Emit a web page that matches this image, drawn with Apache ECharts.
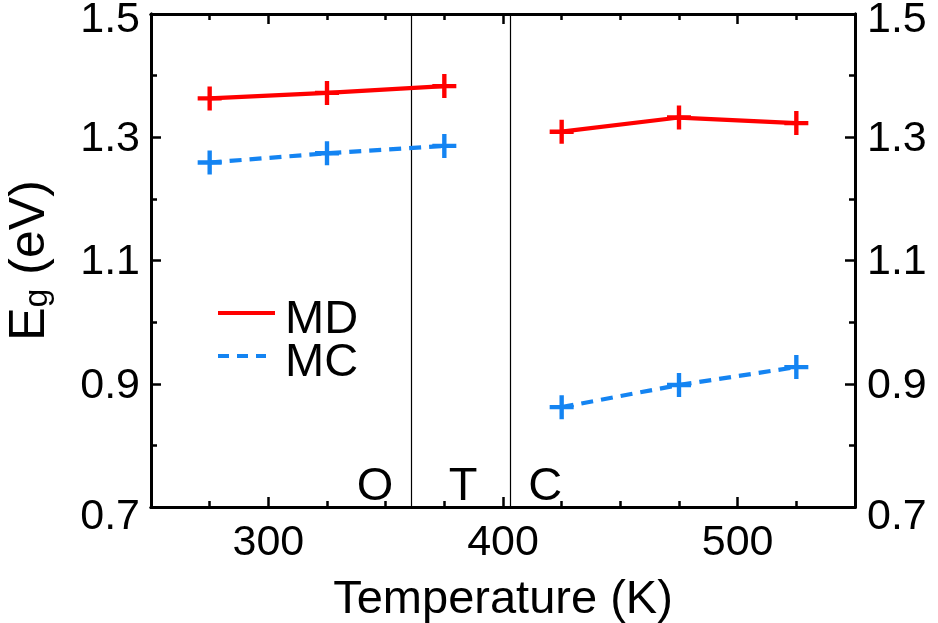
<!DOCTYPE html>
<html>
<head>
<meta charset="utf-8">
<script src="https://cdn.jsdelivr.net/npm/echarts@6/dist/echarts.min.js"></script>
<style>
  html, body { margin: 0; padding: 0; background: #ffffff; }
  #chart { width: 938px; height: 623px; }
</style>
</head>
<body>
<div id="chart"></div>
<script>
// Band gap of the two models across the O / T / C phases
const tempsLow = [275, 325, 375];      // K, orthorhombic + tetragonal range
const tempsHigh = [425, 475, 525];     // K, cubic range
const mdLow = [1.363, 1.372, 1.383];   // eV
const mdHigh = [1.309, 1.332, 1.323];
const mcLow = [1.259, 1.274, 1.286];
const mcHigh = [0.862, 0.898, 0.927];
const phaseBounds = [361, 403];        // K, phase transition temperatures
const phaseLabels = [['O', 345.5], ['T', 383], ['C', 418]];
const xMajor = [300, 400, 500];
const xMinor = [275, 325, 350, 375, 425, 450, 475, 525];
const yMajor = [0.7, 0.9, 1.1, 1.3, 1.5];
const yMinor = [0.8, 1.0, 1.2, 1.4];

const FONT = 'Liberation Sans, Arial, Helvetica, sans-serif';
const RED = '#ff0000';
const BLUE = '#1484f2';
const tickFont = 43;
const textFont = 47;

const pairs = (xs, ys) => xs.map((x, i) => [x, ys[i]]);
const plus = 'path://M4.5,0h2v4.5h4.5v2h-4.5v4.5h-2v-4.5h-4.5v-2h4.5z';

const lineAxis = { show: true, lineStyle: { color: '#000', width: 3 } };

function xAxisDef(position, ticks, len, labels) {
  return {
    type: 'value', min: 250, max: 550, position: position,
    axisLine: lineAxis,
    axisTick: { show: true, inside: true, length: len, customValues: ticks, lineStyle: { color: '#000', width: 2.5 } },
    axisLabel: labels ? { show: true, customValues: ticks, fontSize: tickFont, fontFamily: FONT, color: '#000', margin: 15 } : { show: false },
    splitLine: { show: false }
  };
}
// end labels sit a little lower so they stay inside the canvas
function yLabelText(v) {
  const s = v.toFixed(1);
  if (Math.abs(v - 1.5) < 1e-6) return '{top|' + s + '}';
  if (Math.abs(v - 0.7) < 1e-6) return '{bot|' + s + '}';
  return '{n|' + s + '}';
}
function yAxisDef(position, ticks, len, labels, margin) {
  const base = { fontSize: tickFont, fontFamily: FONT, color: '#000' };
  return {
    type: 'value', min: 0.7, max: 1.5, position: position,
    axisLine: lineAxis,
    axisTick: { show: true, inside: true, length: len, customValues: ticks, lineStyle: { color: '#000', width: 2.5 } },
    axisLabel: labels ? {
      show: true, customValues: ticks, fontSize: tickFont, fontFamily: FONT, color: '#000', margin: margin,
      formatter: yLabelText,
      rich: {
        n: Object.assign({ padding: [4, 0, 0, 0] }, base),
        top: Object.assign({ padding: [12, 0, 0, 0] }, base),
        bot: Object.assign({ padding: [20, 0, 0, 0] }, base)
      }
    } : { show: false },
    splitLine: { show: false }
  };
}

const xAxes = [
  Object.assign(xAxisDef('bottom', xMajor, 10, true), {
    name: 'Temperature (K)', nameLocation: 'middle', nameGap: 70,
    nameTextStyle: { fontSize: textFont, fontFamily: FONT, color: '#000' }
  }),
  xAxisDef('bottom', xMinor, 6, false),
  xAxisDef('top', xMajor, 10, false),
  xAxisDef('top', xMinor, 6, false)
];
const yAxes = [
  Object.assign(yAxisDef('left', yMajor, 10, true, 11), {
    name: '{a|E}{s|g}{a| (eV)}', nameLocation: 'middle', nameGap: 96,
    nameTextStyle: {
      fontFamily: FONT, color: '#000',
      rich: {
        a: { fontSize: 50, fontFamily: FONT, color: '#000' },
        s: { fontSize: 34, fontFamily: FONT, color: '#000', padding: [16, 0, 0, 0] }
      }
    }
  }),
  yAxisDef('left', yMinor, 6, false, 11),
  yAxisDef('right', yMajor, 10, true, 12),
  yAxisDef('right', yMinor, 6, false, 12)
];

function seriesDef(name, data, color, dashed, withBounds) {
  const s = {
    name: name, type: 'line', xAxisIndex: 0, yAxisIndex: 0,
    data: data, symbol: plus, symbolSize: 24,
    itemStyle: { color: color },
    lineStyle: { color: color, width: 4.2, type: dashed ? [12, 8] : 'solid' },
    z: 5, animation: false
  };
  if (withBounds) {
    s.markLine = {
      silent: true, symbol: ['none', 'none'], label: { show: false },
      lineStyle: { color: '#000', width: 1.2, type: 'solid' },
      data: phaseBounds.map(v => ({ xAxis: v }))
    };
  }
  return s;
}

const chart = echarts.init(document.getElementById('chart'), null, { renderer: 'canvas' });
chart.setOption({
  animation: false,
  backgroundColor: '#ffffff',
  grid: { left: 151, right: 83, top: 14, bottom: 116, containLabel: false, outerBoundsMode: 'none' },
  xAxis: xAxes,
  yAxis: yAxes,
  series: [
    seriesDef('MD', pairs(tempsLow, mdLow), RED, false, true),
    seriesDef('MD', pairs(tempsHigh, mdHigh), RED, false, false),
    seriesDef('MC', pairs(tempsLow, mcLow), BLUE, true, false),
    seriesDef('MC', pairs(tempsHigh, mcHigh), BLUE, true, false)
  ]
});

// Phase letters along the bottom, legend in the lower left
const graphics = phaseLabels.map(([txt, t]) => {
  const p = chart.convertToPixel({ xAxisIndex: 0, yAxisIndex: 0 }, [t, 0.7]);
  return {
    type: 'text', x: p[0], y: p[1] + 4,
    style: { text: txt, fontSize: textFont, fontFamily: FONT, fill: '#000', align: 'center', verticalAlign: 'bottom' }
  };
});
const legendItems = [['MD', RED, null, 313], ['MC', BLUE, [11, 8], 356]];
legendItems.forEach(([txt, color, dash, y]) => {
  graphics.push({
    type: 'line', shape: { x1: 218, y1: y, x2: dash ? 266 : 275, y2: y },
    style: { stroke: color, lineWidth: 4, lineDash: dash }
  });
  graphics.push({
    type: 'text', x: 285, y: y + 7,
    style: { text: txt, fontSize: textFont, fontFamily: FONT, fill: '#000', verticalAlign: 'middle' }
  });
});
chart.setOption({ graphic: graphics });
</script>
</body>
</html>
